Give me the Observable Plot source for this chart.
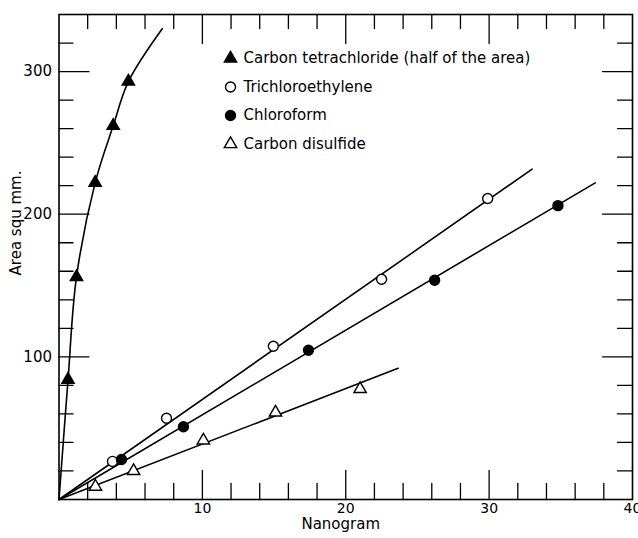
<!DOCTYPE html>
<html><head><meta charset="utf-8">
<script src="https://cdn.jsdelivr.net/npm/d3@7"></script>
<script src="https://cdn.jsdelivr.net/npm/@observablehq/plot@0.6"></script>
<style>body{margin:0;background:#fff;} #chart svg{display:block}</style>
</head><body><div id="chart"></div>
<script>
// ---- data ----
const seriesLabels = ["Carbon tetrachloride (half of the area)", "Trichloroethylene", "Chloroform", "Carbon disulfide"];

const ccl4X = [0.63, 1.22, 2.52, 3.78, 4.84];
const ccl4Y = [84, 156, 222, 262, 293];
const ccl4CurveX = [0, 0.63, 1.22, 2.52, 3.78, 4.84, 7.2];
const ccl4CurveY = [0, 84, 156, 222, 262, 293, 330];

const triX = [3.73, 7.5, 14.95, 22.5, 29.9];
const triY = [26.7, 57, 107.4, 154.4, 211];
const triLineX = [0, 33.0];
const triLineY = [0, 231.6];

const chlX = [4.36, 8.68, 17.4, 26.2, 34.8];
const chlY = [28, 51, 104.6, 153.7, 206];
const chlLineX = [0, 37.4];
const chlLineY = [0, 222];

const cs2X = [2.54, 5.2, 10.07, 15.1, 21.0];
const cs2Y = [9, 20, 41.4, 61, 77.5];
const cs2LineX = [0, 23.65];
const cs2LineY = [0, 92];

const xTickLabels = [10, 20, 30, 40];
const yTickLabels = [100, 200, 300];
const xMinorTicks = d3.range(2, 40, 2).filter(v => v % 10 !== 0);
const xMajorTicks = [10, 20, 30];
const yMinorTicks = d3.range(20, 340, 20).filter(v => v % 100 !== 0);
const yMajorTicks = [100, 200, 300];

// ---- helpers ----
const pts = (xs, ys) => xs.map((x, i) => ({x, y: ys[i]}));
const tickShape = {draw(ctx, l) { ctx.moveTo(0, 0); ctx.lineTo(0, -l); }};
const tickMark = (data, opts) => Plot.vector(data, {shape: tickShape, anchor: "start", stroke: "black", strokeWidth: 1.3, ...opts});

const styles = [
  {symbol: "triangle", fill: "black", stroke: "black", r: 4.6},
  {symbol: "circle", fill: "white", stroke: "black", r: 5},
  {symbol: "circle", fill: "black", stroke: "black", r: 5},
  {symbol: "triangle", fill: "white", stroke: "black", r: 4.6}
];

const lineStyle = {x: "x", y: "y", stroke: "black", strokeWidth: 1.6};
const dotStyle = (s) => ({x: "x", y: "y", symbol: () => s.symbol, fill: s.fill, stroke: s.stroke, r: s.r, strokeWidth: 1.4});

const legendMarks = seriesLabels.flatMap((lab, i) => {
  const s = styles[i];
  const dy = 44 + i * 28.5;
  return [
    Plot.dot([lab], {frameAnchor: "top-left", dx: 171.5, dy, symbol: () => s.symbol, fill: s.fill, stroke: s.stroke, r: s.r, strokeWidth: 1.4}),
    Plot.text([lab], {frameAnchor: "top-left", dx: 184.5, dy, text: d => d, textAnchor: "start", lineAnchor: "middle", fontSize: 15, fill: "black"})
  ];
});

const chart = Plot.plot({
  width: 638,
  height: 538,
  marginLeft: 58.5,
  marginRight: 6,
  marginTop: 14,
  marginBottom: 39,
  style: {fontFamily: "DejaVu Sans", background: "white", color: "black"},
  x: {domain: [0, 40]},
  y: {domain: [0, 340]},
  marks: [
    Plot.axisX(xTickLabels, {tickSize: 0, tickPadding: 4, fontSize: 14, label: null}),
    Plot.axisY(yTickLabels, {tickSize: 0, tickPadding: 7, fontSize: 15, label: null}),
    // inward ticks
    tickMark(xMinorTicks, {x: d => d, y: () => 0, rotate: 0, length: 16}),
    tickMark(xMajorTicks, {x: d => d, y: () => 0, rotate: 0, length: 29}),
    tickMark(xMinorTicks, {x: d => d, y: () => 340, rotate: 180, length: 14}),
    tickMark(xMajorTicks, {x: d => d, y: () => 340, rotate: 180, length: 29}),
    tickMark(yMinorTicks, {x: () => 0, y: d => d, rotate: 90, length: 14}),
    tickMark(yMajorTicks, {x: () => 0, y: d => d, rotate: 90, length: 30}),
    tickMark(yMinorTicks, {x: () => 40, y: d => d, rotate: 270, length: 15}),
    tickMark(yMajorTicks, {x: () => 40, y: d => d, rotate: 270, length: 30}),
    Plot.frame({stroke: "black", strokeWidth: 1.6}),
    // fitted lines
    Plot.line(pts(ccl4CurveX, ccl4CurveY), {...lineStyle, curve: "catmull-rom"}),
    Plot.line(pts(triLineX, triLineY), lineStyle),
    Plot.line(pts(chlLineX, chlLineY), lineStyle),
    Plot.line(pts(cs2LineX, cs2LineY), lineStyle),
    // points
    Plot.dot(pts(ccl4X, ccl4Y), dotStyle(styles[0])),
    Plot.dot(pts(triX, triY), dotStyle(styles[1])),
    Plot.dot(pts(chlX, chlY), dotStyle(styles[2])),
    Plot.dot(pts(cs2X, cs2Y), dotStyle(styles[3])),
    // axis titles
    Plot.text(["Nanogram"], {frameAnchor: "bottom", dx: -5, dy: 25, text: d => d, textAnchor: "middle", lineAnchor: "middle", fontSize: 15, fill: "black"}),
    Plot.text(["Area squ mm."], {frameAnchor: "left", dx: -43, dy: -34, rotate: -90, text: d => d, textAnchor: "middle", lineAnchor: "middle", fontSize: 15, fill: "black"}),
    ...legendMarks
  ]
});
document.getElementById("chart").append(chart);
</script>
</body></html>
